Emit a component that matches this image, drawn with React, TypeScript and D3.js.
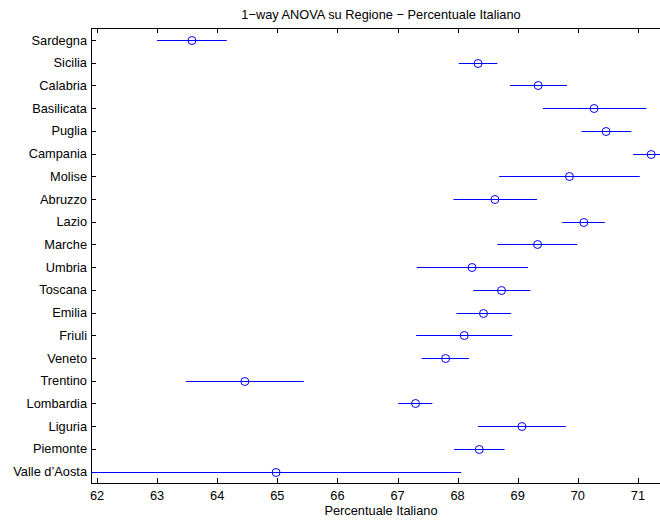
import React from "react";
import * as d3 from "d3";

const regions = [
  "Sardegna", "Sicilia", "Calabria", "Basilicata", "Puglia", "Campania", "Molise",
  "Abruzzo", "Lazio", "Marche", "Umbria", "Toscana", "Emilia", "Friuli", "Veneto",
  "Trentino", "Lombardia", "Liguria", "Piemonte", "Valle d\u2019Aosta",
];
const means = [
  63.58, 68.34, 69.34, 70.27, 70.47, 71.22, 69.86, 68.62, 70.1, 69.33,
  68.24, 68.73, 68.43, 68.11, 67.8, 64.46, 67.3, 69.07, 68.36, 64.98,
];
const lows = [
  63.0, 68.02, 68.87, 69.42, 70.06, 70.92, 68.69, 67.93, 69.74, 68.66,
  67.32, 68.26, 67.98, 67.31, 67.4, 63.48, 67.01, 68.34, 67.94, 61.9,
];
const highs = [
  64.16, 68.66, 69.82, 71.14, 70.89, 71.52, 71.03, 69.32, 70.45, 69.99,
  69.17, 69.21, 68.89, 68.91, 68.19, 65.44, 67.58, 69.8, 68.78, 68.06,
];
const xTicks = [62, 63, 64, 65, 66, 67, 68, 69, 70, 71];
const title = "1\u2212way ANOVA su Regione \u2212 Percentuale Italiano";
const xLabel = "Percentuale Italiano";

export default function App() {
  const W = 660, H = 520;
  const left = 91, right = 671, top = 28, bottom = 483;
  const x = d3.scaleLinear().domain([61.9, 71.55]).range([left, right]);
  const y = d3.scaleLinear().domain([-0.53, 19.5]).range([top, bottom]);
  const font = "Liberation Sans, Arial, Helvetica, sans-serif";
  const blue = "#0000ff";
  const fs = 12.8;
  return (
    <svg width={W} height={H} style={{ position: "absolute", left: 0, top: 0, background: "#fff" }} fontFamily={font}>
      <defs>
        <clipPath id="plot">
          <rect x={left} y={top} width={right - left} height={bottom - top} />
        </clipPath>
      </defs>
      <text x={(left + right) / 2} y={18.5} textAnchor="middle" fontSize={fs}>{title}</text>
      <line x1={left} x2={right} y1={top + 0.5} y2={top + 0.5} stroke="#000" />
      <line x1={left} x2={right} y1={bottom + 0.5} y2={bottom + 0.5} stroke="#000" />
      <line x1={left + 0.5} x2={left + 0.5} y1={top} y2={bottom + 1} stroke="#000" />
      {xTicks.map((t) => (
        <g key={t}>
          <line x1={Math.round(x(t)) + 0.5} x2={Math.round(x(t)) + 0.5} y1={top} y2={top + 5} stroke="#000" />
          <line x1={Math.round(x(t)) + 0.5} x2={Math.round(x(t)) + 0.5} y1={bottom} y2={bottom - 5} stroke="#000" />
          <text x={x(t)} y={499.5} textAnchor="middle" fontSize={fs}>{t}</text>
        </g>
      ))}
      {regions.map((r, i) => (
        <g key={r}>
          <line x1={left} x2={left + 5} y1={Math.round(y(i)) + 0.5} y2={Math.round(y(i)) + 0.5} stroke="#000" />
          <text x={87} y={y(i) + 4.5} textAnchor="end" fontSize={fs}>{r}</text>
        </g>
      ))}
      <g clipPath="url(#plot)">
        {regions.map((r, i) => (
          <g key={r}>
            <line x1={x(lows[i])} x2={x(highs[i])} y1={Math.round(y(i)) + 0.5} y2={Math.round(y(i)) + 0.5} stroke={blue} strokeWidth={1} />
            <circle cx={x(means[i])} cy={Math.round(y(i)) + 0.5} r={4} fill="none" stroke={blue} strokeWidth={1} />
          </g>
        ))}
      </g>
      <text x={(left + right) / 2} y={515} textAnchor="middle" fontSize={fs}>{xLabel}</text>
    </svg>
  );
}
